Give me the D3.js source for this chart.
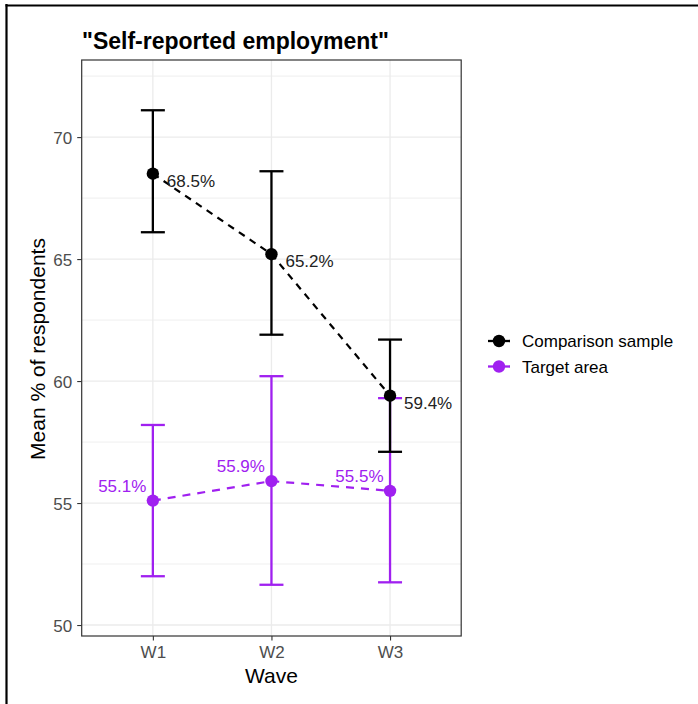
<!DOCTYPE html>
<html>
<head>
<meta charset="utf-8">
<script src="https://cdn.jsdelivr.net/npm/d3@7"></script>
<style>
  body { margin: 0; background: #fff; }
  svg { display: block; font-family: "Liberation Sans", Arial, sans-serif; }
</style>
</head>
<body>
<svg id="chart" width="698" height="704"></svg>
<script>
// Survey waves and the two groups compared
const waves = ["W1", "W2", "W3"];
const groups = ["Comparison sample", "Target area"];
const groupColors = ["#000000", "#A020F0"];

// Mean % of respondents reporting employment, with interval bounds
const comparisonMean  = [68.5, 65.2, 59.4];
const comparisonLower = [66.1, 61.9, 57.1];
const comparisonUpper = [71.1, 68.6, 61.7];
const targetMean  = [55.1, 55.9, 55.5];
const targetLower = [52.0, 51.65, 51.75];
const targetUpper = [58.2, 60.2, 59.3];

const yTicks = [50, 55, 60, 65, 70];
const yMinor = [52.5, 57.5, 62.5, 67.5, 72.5];

const series = [
  { name: groups[0], color: groupColors[0], mean: comparisonMean, lo: comparisonLower, hi: comparisonUpper, dash: "7,6", labelSide: "right" },
  { name: groups[1], color: groupColors[1], mean: targetMean, lo: targetLower, hi: targetUpper, dash: "8,7", labelSide: "left" }
];

const svg = d3.select("#chart");

// Outer frame lines
svg.append("line").attr("x1", 6.5).attr("x2", 6.5).attr("y1", 4).attr("y2", 704)
  .attr("stroke", "#000").attr("stroke-width", 2.2);
svg.append("line").attr("x1", 5.5).attr("x2", 698).attr("y1", 5.5).attr("y2", 5.5)
  .attr("stroke", "#000").attr("stroke-width", 2.2);

const panel = { left: 81.7, right: 461.2, top: 60, bottom: 636 };

// Discrete x positions with ggplot-like 0.6 padding on each side
const xLin = d3.scaleLinear().domain([0.4, 3.6]).range([panel.left, panel.right]);
const x = w => xLin(waves.indexOf(w) + 1);
const y = d3.scaleLinear().domain([49.55, 73.16]).range([panel.bottom, panel.top]);

const grid = svg.append("g");
yMinor.forEach(v => grid.append("line")
  .attr("x1", panel.left).attr("x2", panel.right).attr("y1", y(v)).attr("y2", y(v))
  .attr("stroke", "#EBEBEB").attr("stroke-width", 0.8));
yTicks.forEach(v => grid.append("line")
  .attr("x1", panel.left).attr("x2", panel.right).attr("y1", y(v)).attr("y2", y(v))
  .attr("stroke", "#EBEBEB").attr("stroke-width", 1.3));
waves.forEach(w => grid.append("line")
  .attr("x1", x(w)).attr("x2", x(w)).attr("y1", panel.top).attr("y2", panel.bottom)
  .attr("stroke", "#EBEBEB").attr("stroke-width", 1.3));

// Axes
const yAxis = d3.axisLeft(y).tickValues(yTicks).tickSize(4.5).tickPadding(5).tickFormat(d3.format("d"));
const gy = svg.append("g").attr("transform", `translate(${panel.left},0)`).call(yAxis);
const xAxis = d3.axisBottom(xLin).tickValues([1, 2, 3]).tickSize(4.5).tickPadding(5).tickFormat(i => waves[i - 1]);
const gx = svg.append("g").attr("transform", `translate(0,${panel.bottom})`).call(xAxis);
[gx, gy].forEach(g => {
  g.select(".domain").remove();
  g.selectAll(".tick line").attr("stroke", "#333333").attr("stroke-width", 1.1);
  g.selectAll(".tick text").attr("fill", "#4D4D4D").attr("font-size", 17)
    .attr("font-family", "'Liberation Sans', Arial, sans-serif");
});
gy.selectAll(".tick text").attr("dy", "0.36em");
gx.selectAll(".tick text").attr("dy", "0.73em");

const plot = svg.append("g");

// Draw target first so the comparison group sits on top
[series[1], series[0]].forEach(s => {
  const g = plot.append("g");
  const capHalf = 12;
  waves.forEach((w, i) => {
    const cx = x(w);
    g.append("line").attr("x1", cx).attr("x2", cx).attr("y1", y(s.lo[i])).attr("y2", y(s.hi[i]))
      .attr("stroke", s.color).attr("stroke-width", 2.3);
    [s.lo[i], s.hi[i]].forEach(v => g.append("line")
      .attr("x1", cx - capHalf).attr("x2", cx + capHalf).attr("y1", y(v)).attr("y2", y(v))
      .attr("stroke", s.color).attr("stroke-width", 2.3));
  });
  const line = d3.line().x((d, i) => x(waves[i])).y(d => y(d));
  g.append("path").attr("d", line(s.mean)).attr("fill", "none")
    .attr("stroke", s.color).attr("stroke-width", 2.2).attr("stroke-dasharray", s.dash);
  waves.forEach((w, i) => g.append("circle").attr("cx", x(w)).attr("cy", y(s.mean[i])).attr("r", 6.2)
    .attr("fill", s.color));
  waves.forEach((w, i) => {
    const t = g.append("text").text(s.mean[i].toFixed(1) + "%").attr("font-size", 17);
    if (s.labelSide === "right") {
      t.attr("x", x(w) + 14).attr("y", y(s.mean[i]) + 7).attr("dy", "0.36em")
        .attr("fill", "#222222").attr("text-anchor", "start");
    } else {
      t.attr("x", x(w) - 6.5).attr("y", y(s.mean[i]) - 15).attr("dy", "0.36em")
        .attr("fill", s.color).attr("text-anchor", "end");
    }
  });
});

// Panel border
svg.append("rect").attr("x", panel.left).attr("y", panel.top)
  .attr("width", panel.right - panel.left).attr("height", panel.bottom - panel.top)
  .attr("fill", "none").attr("stroke", "#333333").attr("stroke-width", 1.2);

// Titles
svg.append("text").attr("x", 82).attr("y", 49).attr("font-size", 23).attr("font-weight", "bold")
  .attr("fill", "#000").text("\"Self-reported employment\"");
svg.append("text").attr("x", (panel.left + panel.right) / 2).attr("y", 683).attr("text-anchor", "middle")
  .attr("font-size", 21).attr("fill", "#000").text("Wave");
svg.append("text").attr("transform", "translate(45,349) rotate(-90)").attr("text-anchor", "middle")
  .attr("font-size", 21).attr("fill", "#000").text("Mean % of respondents");

// Legend
const legend = svg.append("g");
groups.forEach((name, i) => {
  const cy = 341 + i * 25.5;
  legend.append("line").attr("x1", 488).attr("x2", 510).attr("y1", cy).attr("y2", cy)
    .attr("stroke", groupColors[i]).attr("stroke-width", 2.3);
  legend.append("circle").attr("cx", 499).attr("cy", cy).attr("r", 6.2).attr("fill", groupColors[i]);
  legend.append("text").attr("x", 522).attr("y", cy).attr("dy", "0.36em").attr("font-size", 17)
    .attr("fill", "#000").text(name);
});
</script>
</body>
</html>
